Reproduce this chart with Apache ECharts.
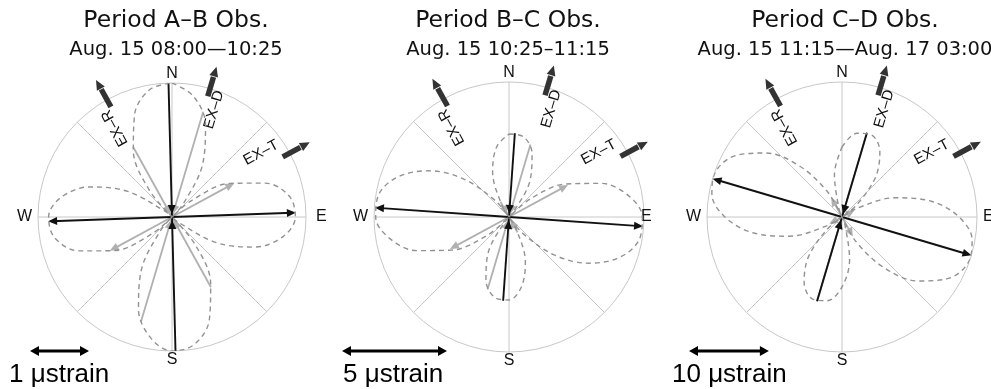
<!DOCTYPE html>
<html>
<head>
<meta charset="utf-8">
<script src="https://cdn.jsdelivr.net/npm/echarts@6/dist/echarts.min.js"></script>
<style>html,body{margin:0;padding:0;background:#fff}#c{width:991px;height:389px}</style>
</head>
<body>
<div id="c"></div>
<script>
// ================= DATA =================
const panelTitles  = ['Period A–B Obs.', 'Period B–C Obs.', 'Period C–D Obs.'];
const panelPeriods = ['Aug. 15 08:00—10:25', 'Aug. 15 10:25–11:15', 'Aug. 15 11:15—Aug. 17 03:00'];
const compassLabels   = ['N', 'E', 'S', 'W'];
const compassBearings = [0, 90, 180, 270];
const circleStrain    = [2.27, 6.43, 16.9];   // μstrain at the circle edge
const scaleBarStrain  = [1, 5, 10];           // μstrain of each scale bar
const scaleUnit = 'μstrain';
const gaugeNames    = ['EX–D', 'EX–T', 'EX–R'];
const gaugeBearings = [16.5, 61.5, 331];      // bearing (deg from N, clockwise)

// principal strains [value μstrain (+ extension / − compression), bearing]
const principalAB = [[2.10, 88], [-2.27, 358.5]];
const principalBC = [[6.40, 94], [-4.00, 4]];
const principalCD = [[16.9, 106.5], [-11.0, 16.5]];

// strain along each extensometer [EX-D, EX-T, EX-R] (μstrain)
const gaugeAB = [-1.86, 1.20, -1.36];
const gaugeBC = [-3.60, 3.20, -0.84];
const gaugeCD = [-11.0, 1.8, 2.8];

// dashed envelope |normal strain| read every 10° (0..170°, repeats every 180°)
const lobeBearings = [0, 10, 20, 30, 40, 50, 60, 70, 80, 90, 100, 110, 120, 130, 140, 150, 160, 170];
const lobeAB = [2.27, 2.08, 1.66, 1.04, 0.31, 0.44, 1.14, 1.68, 2.02, 2.09, 1.91, 1.49, 0.87, 0.14, 0.61, 1.31, 1.85, 2.19];
const lobeBC = [3.95, 3.89, 3.21, 2.00, 0.41, 1.38, 3.15, 4.68, 5.79, 6.35, 6.29, 5.61, 4.40, 2.81, 1.02, 0.75, 2.28, 3.39];
const lobeCD = [8.75, 10.64, 10.90, 9.48, 6.56, 2.50, 2.22, 7.03, 11.35, 14.65, 16.54, 16.80, 15.38, 12.46, 8.40, 3.68, 1.13, 5.45];
// bearings where the envelope passes through the centre
const lobeZeroAB = [44.1, 131.9];
const lobeZeroBC = [42.3, 145.7];
const lobeZeroCD = [55.4, 157.6];

// ================= LAYOUT / STYLE =================
const layout = {
  centers: [[172, 217], [509, 217], [842, 217]],
  radii: [134, 135, 135],
  titleX: [176, 508, 845], titleY: 21, subY: 50,
  barLeft: [30, 342, 689], barY: 351, unitLeft: [9, 343, 672], unitY: 375,
  labelFrac: [0.86, 0.82, 0.79], labelTurn: [4.9, -7.3, -3.6],
  eGap: [10, -3, 6], wGap: 6, nGap: 9.5, sGap: 9
};
const C_BLACK = '#111', C_GRAY = '#b0b0b0', C_LOBE = '#929292', C_GRID = '#c8c8c8', C_ICON = '#333';

const principal = [principalAB, principalBC, principalCD];
const gauges = [gaugeAB, gaugeBC, gaugeCD];
const lobes = [lobeAB, lobeBC, lobeCD];
const lobeZeros = [lobeZeroAB, lobeZeroBC, lobeZeroCD];

function norm(b) { return ((b % 360) + 360) % 360; }
function P(api, r, b) { return api.coord([r, norm(b)]); }
function headPts(tip, ux, uy, L, W) {
  const bx = tip[0] - ux * L, by = tip[1] - uy * L;
  return [[tip[0], tip[1]], [bx - uy * W, by + ux * W], [bx + uy * W, by - ux * W]];
}

function strainRender(color, lw, hl, hw) {
  return function (params, api) {
    const v = api.value(0), b = api.value(1), r = Math.abs(v);
    const c = api.coord([0, 0]);
    const ch = [];
    [b, b + 180].forEach(function (d) {
      const tip = P(api, r, d);
      const dx = tip[0] - c[0], dy = tip[1] - c[1], L = Math.hypot(dx, dy) || 1;
      const ux = dx / L, uy = dy / L;
      ch.push({ type: 'line', shape: { x1: c[0], y1: c[1], x2: tip[0] - ux * (v > 0 ? 3 : 0), y2: tip[1] - uy * (v > 0 ? 3 : 0) },
        style: { stroke: color, lineWidth: lw } });
      if (v > 0) {
        ch.push({ type: 'polygon', shape: { points: headPts(tip, ux, uy, hl, hw) }, style: { fill: color } });
      } else {
        const t = [c[0] + ux * 3, c[1] + uy * 3];
        ch.push({ type: 'polygon', shape: { points: headPts(t, -ux, -uy, hl, hw) }, style: { fill: color } });
      }
    });
    return { type: 'group', children: ch };
  };
}

function lobeLoop(samples, zeros) {
  const pts = [];
  for (let k = 0; k < 2; k++) {
    lobeBearings.forEach(function (b, i) { pts.push([samples[i], b + 180 * k]); });
    zeros.forEach(function (z) { pts.push([0, z + 180 * k]); });
  }
  pts.sort(function (a, b) { return a[1] - b[1]; });
  pts.push([pts[0][0], pts[0][1] + 360]);
  return pts;
}

function gaugeAnnotRender(params, api) {
  const R = api.value(0), b = api.value(1), k = api.value(2);
  const p0 = P(api, 0.94 * R, b), p1 = P(api, 1.09 * R, b), tip = P(api, 1.17 * R, b);
  const dx = tip[0] - p0[0], dy = tip[1] - p0[1], L = Math.hypot(dx, dy) || 1;
  const ux = dx / L, uy = dy / L;
  const lp = P(api, layout.labelFrac[k] * R, b + layout.labelTurn[k]);
  const rot = (90 - b) * Math.PI / 180;
  return { type: 'group', children: [
    { type: 'line', shape: { x1: p0[0], y1: p0[1], x2: p1[0], y2: p1[1] }, style: { stroke: C_ICON, lineWidth: 5.5 } },
    { type: 'polygon', shape: { points: headPts(tip, ux, uy, 10, 4.5) }, style: { fill: C_ICON } },
    { type: 'text', x: lp[0], y: lp[1], rotation: rot,
      style: { text: gaugeNames[k], fill: '#111', font: '15px "Liberation Sans", Arial, sans-serif',
        align: 'center', verticalAlign: 'middle', textAlign: 'center', textVerticalAlign: 'middle' } }
  ] };
}

function compassRender(panel) {
  return function (params, api) {
    const R = api.value(0), b = api.value(1), k = api.value(2);
    const p = P(api, R, b);
    let x = p[0], y = p[1], align = 'center';
    if (b === 0) y -= layout.nGap;
    else if (b === 180) y += layout.sGap;
    else if (b === 90) { x += layout.eGap[panel]; align = 'left'; }
    else { x -= layout.wGap; align = 'right'; }
    return { type: 'text', x: x, y: y,
      style: { text: compassLabels[k], fill: '#111', font: '16px "Liberation Sans", Arial, sans-serif',
        align: align, verticalAlign: 'middle', textAlign: align, textVerticalAlign: 'middle' } };
  };
}

function scaleRender(panel) {
  return function (params, api) {
    const v = api.value(0);
    const c = api.coord([0, 90]), e = api.coord([v, 90]);
    const len = e[0] - c[0];
    const x0 = layout.barLeft[panel], x1 = x0 + len, y = layout.barY;
    return { type: 'group', children: [
      { type: 'line', shape: { x1: x0 + 4, y1: y, x2: x1 - 4, y2: y }, style: { stroke: '#000', lineWidth: 3 } },
      { type: 'polygon', shape: { points: headPts([x0, y], -1, 0, 9, 5) }, style: { fill: '#000' } },
      { type: 'polygon', shape: { points: headPts([x1, y], 1, 0, 9, 5) }, style: { fill: '#000' } },
      { type: 'text', x: layout.unitLeft[panel], y: layout.unitY,
        style: { text: v + ' ' + scaleUnit, fill: '#000', font: '26px "Liberation Sans", Arial, sans-serif',
          align: 'left', verticalAlign: 'middle', textAlign: 'left', textVerticalAlign: 'middle' } }
    ] };
  };
}

const polar = [], angleAxis = [], radiusAxis = [], series = [], graphic = [];
for (let i = 0; i < 3; i++) {
  polar.push({ center: layout.centers[i], radius: layout.radii[i] });
  angleAxis.push({ polarIndex: i, type: 'value', min: 0, max: 360, interval: 45, startAngle: 90, clockwise: true,
    axisLine: { show: true, lineStyle: { color: C_GRID, width: 1 } },
    axisTick: { show: false }, axisLabel: { show: false },
    splitLine: { show: true, lineStyle: { color: C_GRID, width: 1 } } });
  radiusAxis.push({ polarIndex: i, type: 'value', min: 0, max: circleStrain[i], show: false,
    axisLine: { show: false }, axisTick: { show: false }, axisLabel: { show: false }, splitLine: { show: false } });

  series.push({ type: 'line', coordinateSystem: 'polar', polarIndex: i, data: lobeLoop(lobes[i], lobeZeros[i]),
    smooth: 0.35, showSymbol: false, symbol: 'none', clip: false,
    lineStyle: { type: [5, 4], color: C_LOBE, width: 1.4 } });
  series.push({ type: 'custom', coordinateSystem: 'polar', polarIndex: i,
    data: gauges[i].map(function (v, k) { return [v, gaugeBearings[k]]; }),
    renderItem: strainRender(C_GRAY, 1.8, 9, 4) });
  series.push({ type: 'custom', coordinateSystem: 'polar', polarIndex: i,
    data: principal[i], renderItem: strainRender(C_BLACK, 1.9, 9, 4) });
  series.push({ type: 'custom', coordinateSystem: 'polar', polarIndex: i,
    data: gaugeBearings.map(function (b, k) { return [circleStrain[i], b, k]; }), renderItem: gaugeAnnotRender });
  series.push({ type: 'custom', coordinateSystem: 'polar', polarIndex: i,
    data: compassBearings.map(function (b, k) { return [circleStrain[i], b, k]; }), renderItem: compassRender(i) });
  series.push({ type: 'custom', coordinateSystem: 'polar', polarIndex: i,
    data: [[scaleBarStrain[i], 90]], renderItem: scaleRender(i) });

  graphic.push({ type: 'text', x: layout.titleX[i], y: layout.titleY,
    style: { text: panelTitles[i], fill: '#111', font: '23.5px "DejaVu Sans", sans-serif',
      align: 'center', verticalAlign: 'middle', textAlign: 'center', textVerticalAlign: 'middle' } });
  graphic.push({ type: 'text', x: layout.titleX[i], y: layout.subY,
    style: { text: panelPeriods[i], fill: '#111', font: '19.5px "DejaVu Sans", sans-serif',
      align: 'center', verticalAlign: 'middle', textAlign: 'center', textVerticalAlign: 'middle' } });
}

const chart = echarts.init(document.getElementById('c'));
chart.setOption({
  backgroundColor: '#fff',
  animation: false,
  polar: polar, angleAxis: angleAxis, radiusAxis: radiusAxis,
  series: series.map(function (s) { s.silent = true; return s; }),
  graphic: graphic
});
</script>
</body>
</html>
